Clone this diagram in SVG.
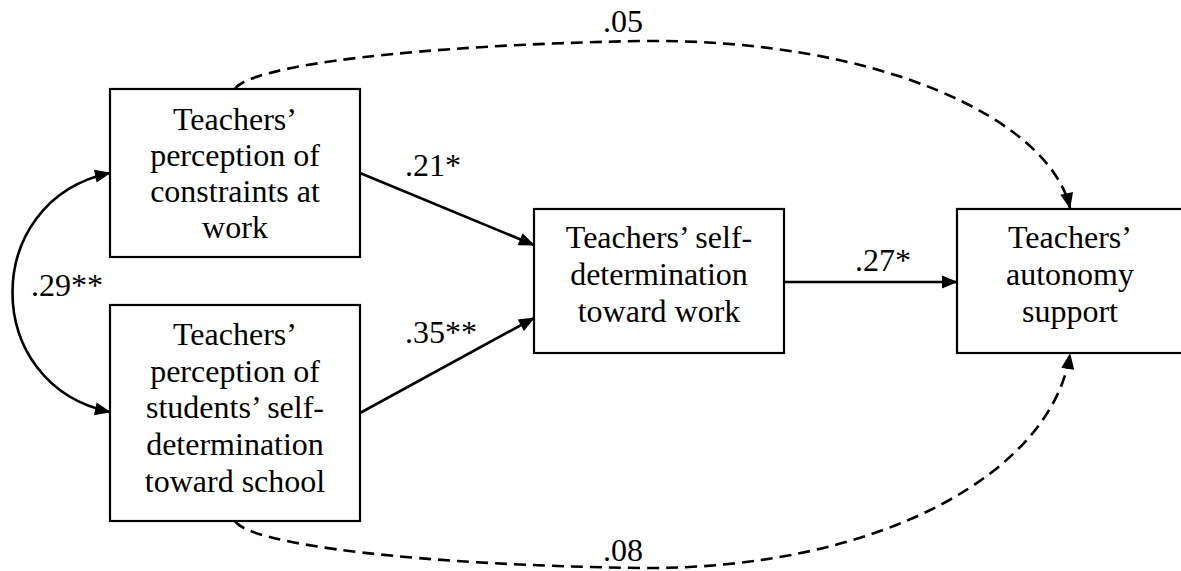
<svg xmlns="http://www.w3.org/2000/svg" width="1181" height="571" viewBox="0 0 1181 571">
<style>
.box{fill:#fff;stroke:#000;stroke-width:2.2}
.t{font-family:'Liberation Serif','Times New Roman',Tinos,'DejaVu Serif',serif;font-size:32px;fill:#000;text-anchor:middle}
.lbl{font-family:'Liberation Serif','Times New Roman',Tinos,'DejaVu Serif',serif;font-size:32px;fill:#000}
.solid{fill:none;stroke:#000;stroke-width:2.6}
.dash{fill:none;stroke:#000;stroke-width:2.6;stroke-dasharray:12 7}
</style>
<defs>
<marker id="ah" markerUnits="userSpaceOnUse" markerWidth="17" markerHeight="14" refX="15" refY="6.5" orient="auto-start-reverse" overflow="visible">
<path d="M0,0 L16,6.5 L0,13 Z" fill="#000" stroke="none"/>
</marker>
</defs>
<rect width="1181" height="571" fill="#fff"/>
<g id="connectors">
<path class="solid" d="M360,173 L534,245" marker-end="url(#ah)"/>
<path class="solid" d="M360,413 L534,318" marker-end="url(#ah)"/>
<path class="solid" d="M784,282 L957,282" marker-end="url(#ah)"/>
<path class="solid" d="M110,173 C -20,200 -20,385 110,412" marker-start="url(#ah)" marker-end="url(#ah)"/>
<path class="dash" d="M235,89 C 250,65 420,45 640,41 C 880,38 1050,120 1070,208" marker-end="url(#ah)"/>
<path class="dash" d="M235,521 C 250,545 420,565 640,568 C 880,570 1052,472 1070,354" marker-end="url(#ah)"/>
<text class="lbl" font-family="Liberation Serif, serif" x="405" y="176">.21*</text>
<text class="lbl" font-family="Liberation Serif, serif" x="405" y="343">.35**</text>
<text class="lbl" font-family="Liberation Serif, serif" x="855" y="271">.27*</text>
<text class="lbl" font-family="Liberation Serif, serif" x="31" y="296">.29**</text>
<text class="lbl" font-family="Liberation Serif, serif" x="603" y="32">.05</text>
<text class="lbl" font-family="Liberation Serif, serif" x="603" y="561">.08</text>
</g>
<g id="constraints" font-family="Liberation Serif, serif">
<rect class="box" x="110" y="89" width="250" height="168"/>
<text class="t" x="235" y="130">Teachers’</text>
<text class="t" x="235" y="166">perception of</text>
<text class="t" x="235" y="202">constraints at</text>
<text class="t" x="235" y="238">work</text>
</g>
<g id="students" font-family="Liberation Serif, serif">
<rect class="box" x="110" y="305" width="250" height="216"/>
<text class="t" x="235" y="345">Teachers’</text>
<text class="t" x="235" y="382">perception of</text>
<text class="t" x="235" y="418">students’ self-</text>
<text class="t" x="235" y="455">determination</text>
<text class="t" x="235" y="492">toward school</text>
</g>
<g id="selfdetermination" font-family="Liberation Serif, serif">
<rect class="box" x="534" y="209" width="250" height="144"/>
<text class="t" x="659" y="248">Teachers’ self-</text>
<text class="t" x="659" y="285">determination</text>
<text class="t" x="659" y="322">toward work</text>
</g>
<g id="autonomy" font-family="Liberation Serif, serif">
<rect class="box" x="957" y="209" width="227" height="144"/>
<text class="t" x="1070" y="248">Teachers’</text>
<text class="t" x="1070" y="285">autonomy</text>
<text class="t" x="1070" y="322">support</text>
</g>
</svg>
